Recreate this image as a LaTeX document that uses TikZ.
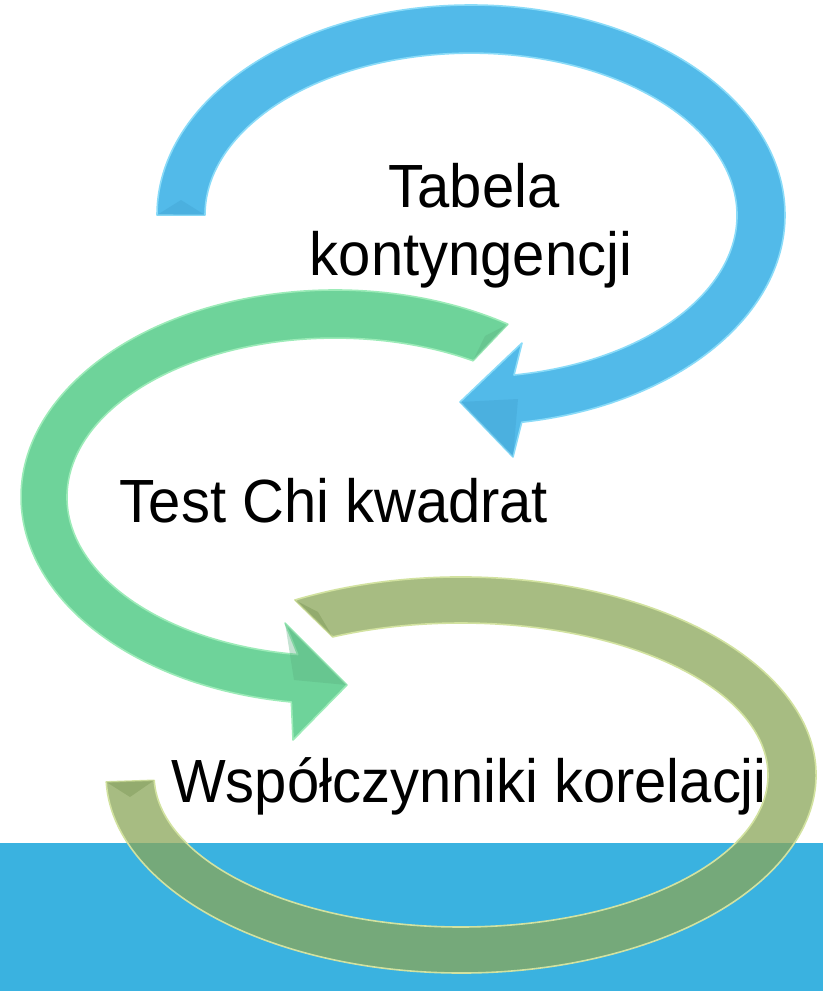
\documentclass[tikz,border=0pt]{standalone}
\usepackage{fontspec}
\setmainfont[FakeStretch=0.95]{Liberation Sans}
\definecolor{bandblue}{HTML}{3AB2E0}
\definecolor{bluefill}{HTML}{52BAE9}
\definecolor{blueedge}{HTML}{8ADBF8}
\definecolor{bluedark}{HTML}{3F9FCF}
\definecolor{greenfill}{HTML}{6ED39A}
\definecolor{greenedge}{HTML}{9CEBB8}
\definecolor{greendark}{HTML}{5AAE80}
\definecolor{olivefill}{HTML}{8AA658}
\definecolor{oliveedge}{HTML}{D2E2A0}
\definecolor{olivedark}{HTML}{6E8A48}
\begin{document}
\begin{tikzpicture}[x=1pt,y=1pt,
  arrowshape/.style={line width=1.6pt, line join=round},
  facet/.style={opacity=0.35},
  label/.style={font=\fontsize{61}{70}\selectfont, text=black, inner sep=0pt, anchor=base}]
\useasboundingbox (0,0) rectangle (823,-991);
% background band
\fill[bandblue] (0,-843) rectangle (823,-991);

% blue arrow
\path[arrowshape, fill=bluefill, draw=blueedge]
  (157,-215) arc[start angle=180, end angle=-80.7, x radius=314, y radius=210]
  -- (513,-457) -- (460,-402) -- (522,-343) -- (514,-375)
  arc[start angle=-80.7, end angle=180, x radius=266, y radius=162] -- cycle;
\fill[bluedark, facet] (460,-402) -- (518,-399) -- (513,-457) -- cycle;
\fill[bluedark, facet] (157,-215) -- (181,-200) -- (205,-215) -- cycle;

% green arrow
\path[arrowshape, fill=greenfill, draw=greenedge]
  (507.9,-324.2) arc[start angle=56.6, end angle=262, x radius=314, y radius=207]
  -- (293,-740) -- (347,-685) -- (285,-623) -- (297.7,-654.5)
  arc[start angle=262, end angle=59, x radius=268, y radius=159] -- cycle;
\fill[greendark, facet] (347,-685) -- (294,-680) -- (285,-623) -- cycle;
\fill[greendark, facet] (507.9,-324.2) -- (485,-336) -- (473,-360.7) -- cycle;

% olive arrow (semi-transparent)
\path[arrowshape, fill=olivefill, draw=oliveedge, fill opacity=0.75]
  (294.9,-600) arc[start angle=117.9, end angle=-178, x radius=355, y radius=198]
  -- (154.2,-780.3)
  arc[start angle=-178, end angle=114.7, x radius=307, y radius=152] -- cycle;
\fill[olivedark, facet] (294.9,-600) -- (318,-612) -- (332.7,-636.9) -- cycle;
\fill[olivedark, facet] (106.2,-781.9) -- (130,-797) -- (154.2,-780.3) -- cycle;

% labels
\node[label] (tab1) at (474,-207) {Tabela};
\node[label] (tab2) at (471,-275) {kontyngencji};
\node[label] (chi) at (334,-522) {Test Chi kwadrat};
\node[label] (wsp) at (469,-802) {Współczynniki korelacji};
\end{tikzpicture}
\end{document}
